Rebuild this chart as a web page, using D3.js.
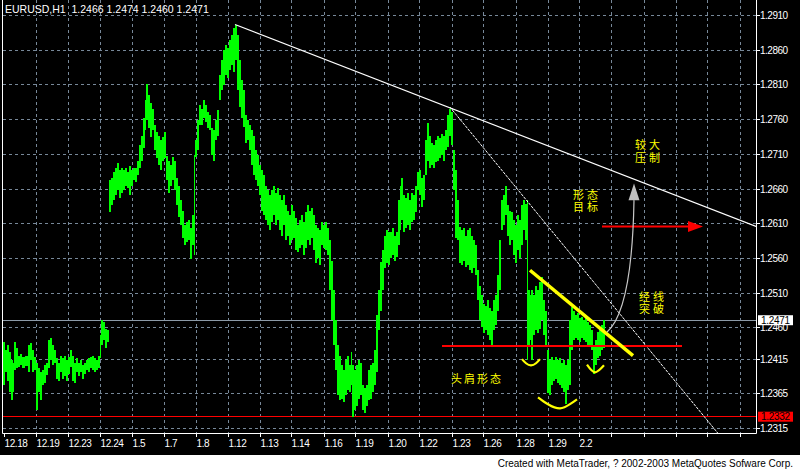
<!DOCTYPE html>
<html><head><meta charset="utf-8">
<script src="https://cdn.jsdelivr.net/npm/d3@7"></script>
<style>body{margin:0;background:#fff}svg{display:block}</style>
</head><body>
<svg id="c" width="800" height="471"></svg>
<script>
// ---------- data ----------
const symbolTitle = "EURUSD,H1  1.2466 1.2474 1.2460 1.2471";
const timeLabels = ["12.18","12.19","12.23","12.24","1.5","1.7","1.8","1.12","1.13","1.14","1.16","1.19","1.20","1.22","1.23","1.26","1.28","1.29","2.2"];
const timeTickStep = 32;          // bars between time ticks
const totalBars = 753;            // bars across the plot width
const priceTicks = [1.2910,1.2860,1.2810,1.2760,1.2710,1.2660,1.2610,1.2560,1.2510,1.2460,1.2415,1.2365,1.2315];
const bidPrice = 1.2471;
const alertPrice = 1.2332;
// bar index, high, low
const barT = [0,2,4,6,8,10,11,13,15,17,19,22,25,27,29,31,33,35,37,39,41,43,45,47,49,51,53,55,57,59,61,63,65,67,69,71,73,75,77,79,81,83,85,87,89,91,93,95,97,98,100,102,104,
106,108,110,112,114,116,118,120,122,124,126,128,130,132,134,136,138,140,142,143,145,147,149,151,153,155,157,159,161,163,165,167,169,171,173,175,177,179,181,183,185,187,189,191,192,194,196,198,200,202,204,206,208,210,212,214,216,218,220,222,224,226,228,230,232,234,236,238,240,242,244,246,248,250,252,254,256,258,260,262,264,266,268,270,272,274,276,278,280,282,284,286,288,290,292,294,296,298,300,302,304,306,308,310,312,314,316,318,320,322,324,326,328,330,332,334,336,338,340,342,344,346,348,349,351,353,355,357,359,361,363,365,367,369,371,373,375,377,379,381,383,385,387,389,391,393,395,397,398,400,402,404,406,408,410,412,414,416,418,420,422,424,426,428,430,432,434,436,438,440,442,444,446,448,450,452,454,456,458,460,462,464,466,468,470,472,474,476,478,480,482,484,486,488,490,492,494,496,498,500,502,504,506,508,510,512,514,516,518,520,522,524,525,527,528,530,532,534,536,538,540,542,544,546,548,550,552,554,556,558,560,562,564,566,568,570,572,574,576,578,580,582,584,586,588,590,592,594,596,598,600];
const barHigh = [1.2439,1.2428,1.2435,1.2425,1.2413,1.2410,1.2439,1.2431,1.2420,1.2423,1.2418,1.2420,1.2435,1.2438,1.2428,1.2418,1.2410,1.2402,1.2396,1.2399,1.2406,1.2410,1.2442,1.2445,1.2435,1.2428,1.2416,1.2410,1.2420,1.2416,1.2419,1.2413,1.2418,1.2428,1.2420,1.2410,1.2416,1.2410,1.2413,1.2406,1.2410,1.2413,1.2416,1.2418,1.2419,1.2416,1.2413,1.2419,1.2449,1.2471,1.2468,1.2459,1.2457,
1.2673,1.2676,1.2684,1.2690,1.2697,1.2687,1.2691,1.2687,1.2690,1.2684,1.2693,1.2687,1.2690,1.2691,1.2701,1.2723,1.2737,1.2762,1.2788,1.2812,1.2795,1.2784,1.2776,1.2752,1.2742,1.2737,1.2730,1.2735,1.2742,1.2708,1.2701,1.2694,1.2706,1.2701,1.2676,1.2665,1.2644,1.2629,1.2608,1.2612,1.2615,1.2604,1.2622,1.2709,1.2730,1.2759,1.2781,1.2776,1.2788,1.2781,1.2771,1.2766,1.2748,1.2745,1.2759,1.2774,1.2824,1.2846,1.2860,1.2867,1.2863,1.2874,1.2882,1.2892,1.2897,1.2882,1.2846,1.2817,1.2802,1.2766,1.2759,1.2752,1.2745,1.2737,1.2716,1.2709,1.2694,1.2687,1.2680,1.2665,1.2658,1.2651,1.2658,1.2665,1.2655,1.2661,1.2651,1.2644,1.2651,1.2637,1.2629,1.2622,1.2637,1.2629,1.2618,1.2608,1.2615,1.2622,1.2612,1.2627,1.2637,1.2629,1.2632,1.2622,1.2608,1.2604,1.2601,1.2612,1.2608,1.2612,1.2604,1.2586,1.2557,1.2514,1.2471,1.2435,1.2420,1.2406,1.2399,1.2413,1.2420,1.2406,1.2425,1.2406,1.2399,1.2406,1.2413,1.2410,1.2377,1.2373,1.2377,1.2399,1.2406,1.2409,1.2428,1.2478,1.2514,1.2555,1.2572,1.2593,1.2601,1.2598,1.2598,1.2604,1.2593,1.2598,1.2644,1.2665,1.2676,1.2651,1.2647,1.2654,1.2644,1.2655,1.2651,1.2665,1.2684,1.2687,1.2676,1.2680,1.2730,1.2755,1.2737,1.2727,1.2723,1.2730,1.2737,1.2733,1.2740,1.2737,1.2745,1.2766,1.2776,1.2771,1.2716,1.2687,1.2644,1.2605,1.2601,1.2604,1.2593,1.2601,1.2604,1.2593,1.2586,1.2579,1.2543,1.2521,1.2507,1.2495,1.2492,1.2500,1.2488,1.2485,1.2500,1.2507,1.2536,1.2586,1.2644,1.2651,1.2665,1.2637,1.2629,1.2627,1.2615,1.2608,1.2622,1.2615,1.2637,1.2644,1.2639,1.2644,1.2514,1.2507,1.2514,1.2507,1.2521,1.2514,1.2526,1.2533,1.2500,1.2485,1.2428,1.2413,1.2418,1.2413,1.2418,1.2413,1.2416,1.2410,1.2413,1.2406,1.2413,1.2471,1.2490,1.2485,1.2478,1.2481,1.2474,1.2475,1.2471,1.2474,1.2468,1.2464,1.2457,1.2435,1.2442,1.2454,1.2459,1.2464,1.2471];
const barLow = [1.2377,1.2396,1.2384,1.2367,1.2356,1.2367,1.2399,1.2402,1.2403,1.2407,1.2402,1.2405,1.2396,1.2413,1.2396,1.2399,1.2341,1.2367,1.2356,1.2377,1.2381,1.2392,1.2402,1.2413,1.2406,1.2410,1.2387,1.2384,1.2396,1.2387,1.2390,1.2384,1.2393,1.2403,1.2384,1.2381,1.2396,1.2390,1.2396,1.2387,1.2393,1.2399,1.2396,1.2402,1.2399,1.2396,1.2399,1.2402,1.2416,1.2435,1.2442,1.2431,1.2439,
1.2627,1.2637,1.2644,1.2651,1.2658,1.2647,1.2654,1.2658,1.2665,1.2661,1.2651,1.2665,1.2673,1.2670,1.2680,1.2691,1.2701,1.2719,1.2745,1.2759,1.2748,1.2735,1.2745,1.2716,1.2704,1.2694,1.2687,1.2701,1.2704,1.2673,1.2654,1.2665,1.2673,1.2658,1.2637,1.2619,1.2608,1.2590,1.2579,1.2583,1.2586,1.2559,1.2579,1.2565,1.2706,1.2716,1.2752,1.2752,1.2762,1.2756,1.2748,1.2745,1.2709,1.2701,1.2730,1.2737,1.2788,1.2802,1.2810,1.2824,1.2820,1.2831,1.2838,1.2828,1.2846,1.2802,1.2778,1.2763,1.2749,1.2726,1.2730,1.2716,1.2694,1.2680,1.2673,1.2665,1.2651,1.2629,1.2622,1.2615,1.2608,1.2601,1.2612,1.2622,1.2608,1.2615,1.2601,1.2593,1.2608,1.2586,1.2593,1.2579,1.2586,1.2589,1.2572,1.2569,1.2575,1.2579,1.2565,1.2575,1.2586,1.2579,1.2589,1.2572,1.2554,1.2560,1.2550,1.2579,1.2575,1.2572,1.2565,1.2514,1.2471,1.2435,1.2399,1.2363,1.2356,1.2358,1.2353,1.2363,1.2370,1.2367,1.2377,1.2331,1.2341,1.2348,1.2358,1.2363,1.2341,1.2338,1.2348,1.2356,1.2358,1.2367,1.2377,1.2396,1.2457,1.2485,1.2514,1.2546,1.2554,1.2550,1.2560,1.2565,1.2557,1.2562,1.2579,1.2601,1.2615,1.2598,1.2604,1.2608,1.2601,1.2612,1.2615,1.2627,1.2658,1.2651,1.2634,1.2644,1.2680,1.2701,1.2691,1.2694,1.2690,1.2699,1.2701,1.2704,1.2709,1.2701,1.2716,1.2720,1.2737,1.2723,1.2658,1.2590,1.2586,1.2554,1.2550,1.2557,1.2547,1.2550,1.2543,1.2539,1.2546,1.2536,1.2500,1.2471,1.2461,1.2452,1.2457,1.2449,1.2442,1.2432,1.2457,1.2464,1.2485,1.2514,1.2601,1.2608,1.2622,1.2593,1.2579,1.2586,1.2565,1.2554,1.2572,1.2560,1.2579,1.2601,1.2586,1.2413,1.2435,1.2442,1.2413,1.2449,1.2457,1.2452,1.2459,1.2471,1.2449,1.2432,1.2366,1.2363,1.2377,1.2384,1.2387,1.2381,1.2377,1.2373,1.2367,1.2351,1.2370,1.2377,1.2428,1.2442,1.2445,1.2442,1.2439,1.2445,1.2442,1.2439,1.2432,1.2435,1.2428,1.2394,1.2406,1.2416,1.2420,1.2428,1.2431];
const lastBarEnd = 602;
// drawn objects: [bar index, price]
const trendMajor = [[232,1.2897],[753,1.2606]];
const trendMinor = [[447,1.2778],[715,1.2308]];
const necklineYellow = [[527,1.2543],[630,1.2420]];
const necklineRed = [[439,1.2434],[679,1.2434]];
const targetArrow = [[599,1.2606],[700,1.2606]];
const breakoutCurve = [[604,1.2454],[629,1.2485],[631,1.2644]];
const breakoutTip = [631,1.2668];
const leftShoulder = [[519,1.2415],[523,1.2409],[528,1.2406],[533,1.2409],[537,1.2415]];
const headArc = [[535,1.2360],[545,1.2350],[557,1.2344],[567,1.2350],[574,1.2357]];
const rightShoulder = [[584,1.2407],[592,1.2396],[601,1.2406]];
const notes = [
  {t:448, p:1.2380, gap:0,    lines:["头肩形态"]},
  {t:632, p:1.2718, gap:13.5, lines:["较大","压制"]},
  {t:570, p:1.2645, gap:11.5, lines:["形态","目标"]},
  {t:636, p:1.2499, gap:12.5, lines:["经线","突破"]}
];
const credit = "Created with MetaTrader, ? 2002-2003 MetaQuotes Sofware Corp.";

// ---------- drawing ----------
const svg = d3.select("#c");
svg.append("rect").attr("width",800).attr("height",455).attr("fill","#000");

const x = d3.scaleLinear().domain([0,totalBars]).range([3,756]);
const y = d3.scaleLinear().domain([1.2315,1.2910]).range([428.5,15.5]);
const crisp = v => Math.round(v-0.5)+0.5;
const GRID = "#778899";
const AXFONT = "'Liberation Sans',Arial";

svg.append("defs").append("clipPath").attr("id","plot")
  .append("rect").attr("x",3).attr("y",0).attr("width",753).attr("height",433);

const plot = svg.append("g").attr("clip-path","url(#plot)");

// grid
priceTicks.forEach(p=>{
  plot.append("line").attr("x1",3).attr("x2",756).attr("y1",crisp(y(p))).attr("y2",crisp(y(p)))
    .attr("stroke",GRID).attr("stroke-dasharray","3,3");
});
d3.range(timeTickStep, totalBars, timeTickStep).forEach(t=>{
  plot.append("line").attr("y1",0).attr("y2",433).attr("x1",crisp(x(t))+1).attr("x2",crisp(x(t))+1)
    .attr("stroke",GRID).attr("stroke-dasharray","3,3");
});

// bid line & alert line
plot.append("line").attr("x1",3).attr("x2",756).attr("y1",crisp(y(bidPrice))).attr("y2",crisp(y(bidPrice)))
  .attr("stroke","#8c9aa8");
plot.append("line").attr("x1",3).attr("x2",756).attr("y1",crisp(y(alertPrice))).attr("y2",crisp(y(alertPrice)))
  .attr("stroke","#ff0000");

// bars
const bars = barT.map((t,i)=>({t, t2: i+1<barT.length? barT[i+1] : lastBarEnd, hi:barHigh[i], lo:barLow[i]}));
plot.append("g").selectAll("rect").data(bars).join("rect")
  .attr("x",d=>x(d.t)).attr("width",d=>x(d.t2)-x(d.t))
  .attr("y",d=>y(d.hi)).attr("height",d=>Math.max(1,y(d.lo)-y(d.hi)))
  .attr("fill","#00ff00").attr("shape-rendering","crispEdges");

const line = d3.line().x(d=>x(d[0])).y(d=>y(d[1]));

// trendlines
plot.append("path").attr("d",line(trendMajor)).attr("stroke","#ffffff").attr("stroke-width",1.2).attr("fill","none");
plot.append("path").attr("d",line(trendMinor)).attr("stroke","#ffffff").attr("stroke-width",1).attr("stroke-dasharray","3,1").attr("fill","none");

// red neckline
plot.append("path").attr("d",line(necklineRed)).attr("stroke","#ff0000").attr("stroke-width",2).attr("fill","none");
// yellow neckline
plot.append("path").attr("d",line(necklineYellow)).attr("stroke","#ffff00").attr("stroke-width",3.5).attr("fill","none");

// arcs
const arc = d3.line().x(d=>x(d[0])).y(d=>y(d[1])).curve(d3.curveNatural);
[leftShoulder, headArc, rightShoulder].forEach(a=>{
  plot.append("path").attr("d",arc(a)).attr("stroke","#ffff00").attr("stroke-width",2.2).attr("fill","none");
});

// target arrow
const ta0 = [x(targetArrow[0][0]), y(targetArrow[0][1])], ta1=[x(targetArrow[1][0]), y(targetArrow[1][1])];
plot.append("line").attr("x1",ta0[0]).attr("x2",ta1[0]-12).attr("y1",ta0[1]).attr("y2",ta1[1])
  .attr("stroke","#ff0000").attr("stroke-width",2);
plot.append("path").attr("d",`M${ta1[0]},${ta1[1]} L${ta1[0]-15},${ta1[1]-5.5} L${ta1[0]-15},${ta1[1]+5.5} Z`).attr("fill","#ff0000");

// breakout curve arrow
const bc = breakoutCurve.map(d=>[x(d[0]),y(d[1])]);
plot.append("path").attr("d",`M${bc[0][0]},${bc[0][1]} Q${bc[1][0]},${bc[1][1]} ${bc[2][0]},${bc[2][1]}`)
  .attr("stroke","#c8c8c8").attr("stroke-width",1.2).attr("fill","none");
const tip = [x(breakoutTip[0]), y(breakoutTip[1])];
plot.append("path").attr("d",`M${tip[0]},${tip[1]} L${tip[0]-5.5},${bc[2][1]} L${tip[0]+5.5},${bc[2][1]} Z`).attr("fill","#c0c0c0");

// notes
notes.forEach(n=>{
  const tx = plot.append("text").attr("x",x(n.t)).attr("y",y(n.p))
    .attr("fill","#ffff00").attr("font-family","'Noto Sans CJK SC'").attr("font-size",11)
    .attr("letter-spacing",n.lines.length>1?3:2);
  n.lines.forEach((l,i)=>tx.append("tspan").attr("x",x(n.t)).attr("dy",i?n.gap:0).text(l));
});

// frame
svg.append("path").attr("d","M2.5,0 V433.5 H756.5 V0").attr("stroke","#ffffff").attr("fill","none");

// price axis
priceTicks.forEach(p=>{
  const yy = crisp(y(p));
  svg.append("line").attr("x1",757).attr("x2",760).attr("y1",yy).attr("y2",yy).attr("stroke","#fff");
  svg.append("text").attr("x",760).attr("y",yy+3.5).attr("fill","#fff").attr("letter-spacing",-0.5)
    .attr("font-family",AXFONT).attr("font-size",10).text(p.toFixed(4));
});
// price labels
[[bidPrice,"#ffffff"],[alertPrice,"#ff0000"]].forEach(([p,c])=>{
  const yy = y(p);
  svg.append("rect").attr("x",758).attr("y",yy-5).attr("width",35).attr("height",10).attr("fill",c);
  svg.append("text").attr("x",761).attr("y",yy+3.5).attr("fill","#000").attr("letter-spacing",-0.3)
    .attr("font-family",AXFONT).attr("font-size",10).text(p.toFixed(4));
});

// time axis
d3.range(0,totalBars,timeTickStep).forEach((t,i)=>{
  const xx = crisp(x(t))+1;
  svg.append("line").attr("x1",xx).attr("x2",xx).attr("y1",433).attr("y2",437).attr("stroke","#fff");
  if (i<timeLabels.length)
    svg.append("text").attr("x",xx).attr("y",446.5).attr("fill","#fff").attr("letter-spacing",-0.4)
      .attr("font-family",AXFONT).attr("font-size",10).text(timeLabels[i]);
});

// title
svg.append("text").attr("x",5).attr("y",13).attr("fill","#fff").attr("xml:space","preserve")
  .attr("font-family",AXFONT).attr("font-size",10.5).text(symbolTitle);

// credit
svg.append("text").attr("x",793).attr("y",467).attr("text-anchor","end").attr("fill","#000")
  .attr("font-family",AXFONT).attr("font-size",10).text(credit);
</script>
</body></html>
